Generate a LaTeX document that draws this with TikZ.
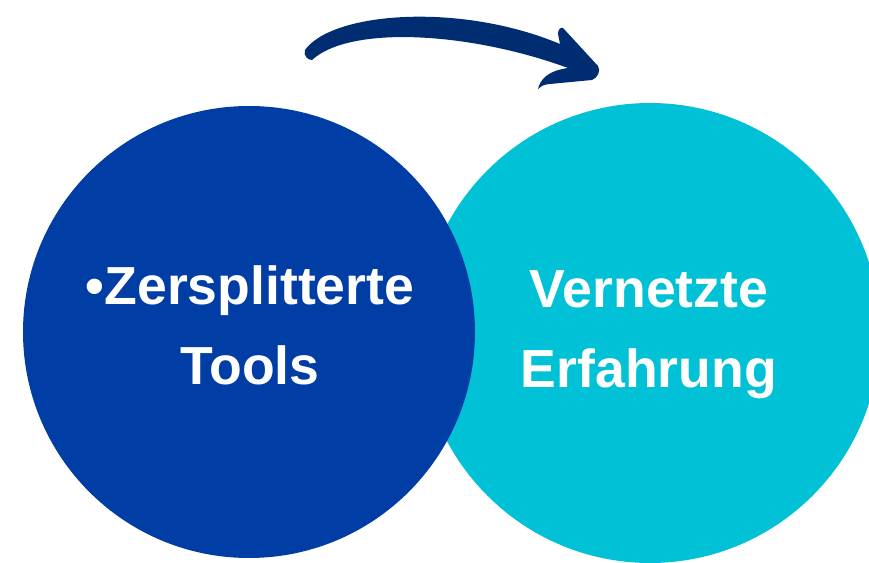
\documentclass[tikz,border=0pt]{standalone}
\usepackage{fontspec}
\setmainfont{Liberation Sans}

\definecolor{toolsblue}{HTML}{003DA5}
\definecolor{netzcyan}{HTML}{00C1D6}
\definecolor{pfeilnavy}{HTML}{002D72}

\begin{document}
\begin{tikzpicture}[x=0.02cm,y=-0.02cm,
    txt/.style={text=white,font=\bfseries\fontsize{30.5}{45.5}\selectfont,
                inner sep=0pt,anchor=base}]

  % Rahmen in Pixeln, (0,0) oben links
  \useasboundingbox (0,0) rectangle (869,563);
  \clip (0,0) rectangle (869,563);

  % rechter Kreis liegt hinten, linker Kreis darueber
  \fill[netzcyan] (650,333) circle [radius=230];
  \fill[toolsblue] (249,332) circle [radius=226];

  % Texte
  \node[txt] (zers)  at (250,305) {•Zersplitterte};
  \node[txt] (tools) at (250,385) {Tools};
  \node[txt] (vern)  at (649,308) {Vernetzte};
  \node[txt] (erf)   at (649,388) {Erfahrung};

  % Pinsel-Pfeil oben
  \fill[pfeilnavy] (305,50) .. controls (332,12) and (460,2) .. (560,44)
    -- (558,34) .. controls (558,29) and (561,27) .. (563,28)
    -- (598,66) .. controls (601,70) and (598,78) .. (592,80)
    -- (550,84) .. controls (543,85) .. (538,89)
    .. controls (540,80) and (547,71) .. (568,68)
    .. controls (470,32) and (350,25) .. (312,60)
    .. controls (308,60) and (303,56) .. (305,50) -- cycle;

\end{tikzpicture}
\end{document}
